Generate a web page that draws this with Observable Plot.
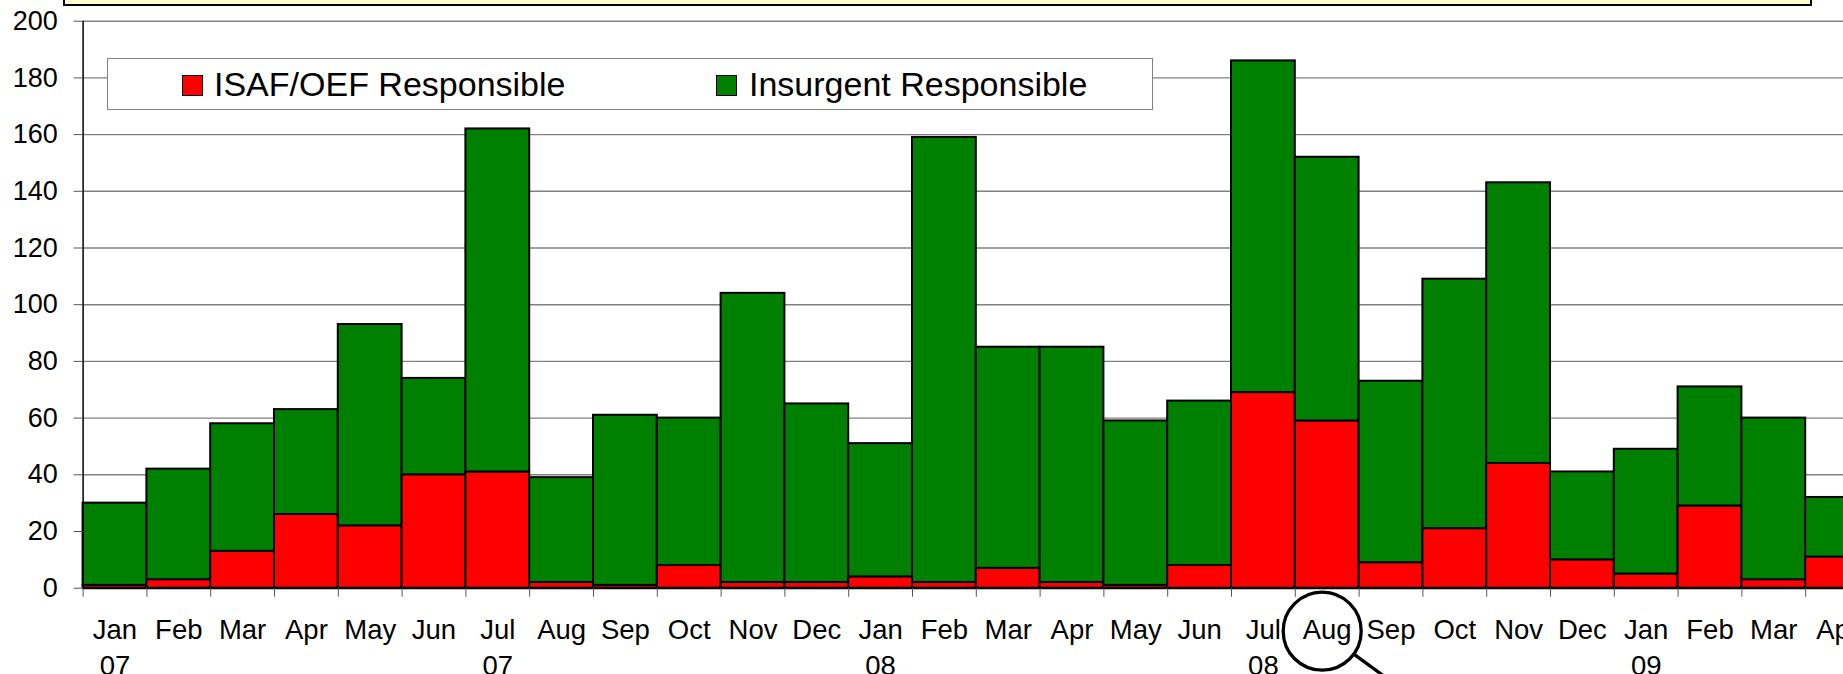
<!DOCTYPE html>
<html>
<head>
<meta charset="utf-8">
<script src="https://cdn.jsdelivr.net/npm/d3@7"></script>
<script src="https://cdn.jsdelivr.net/npm/@observablehq/plot@0.6"></script>
<style>
  html, body { margin: 0; padding: 0; background: #fff; overflow: hidden; }
  #wrap { position: relative; width: 1843px; height: 674px; overflow: hidden; font-family: "Liberation Sans", Arial, sans-serif; }
  #wrap svg { overflow: hidden; display: block; }
  .titlebox { position: absolute; left: 63px; top: -20px; width: 1749px; height: 26px; box-sizing: border-box;
    background: #ffffcc; border: 2px solid #000; }
  .legend { position: absolute; left: 107px; top: 58px; width: 1046px; height: 52px; box-sizing: border-box;
    background: #fff; border: 1.5px solid #808080; }
  .sw { position: absolute; width: 21px; height: 21px; box-sizing: border-box; border: 1.5px solid #000; }
  .lt { position: absolute; font-size: 34px; line-height: 34px; color: #000; white-space: nowrap; }
</style>
</head>
<body>
<div id="wrap"></div>
<script>
// ---- data ----
const monthLabels = ["Jan\n07","Feb","Mar","Apr","May","Jun","Jul\n07","Aug","Sep","Oct","Nov","Dec",
                     "Jan\n08","Feb","Mar","Apr","May","Jun","Jul\n08","Aug","Sep","Oct","Nov","Dec",
                     "Jan\n09","Feb","Mar","Apr"];
const isafValues      = [1,3,13,26,22,40,41,2,1,8,2,2,4,2,7,2,1,8,69,59,9,21,44,10,5,29,3,11];
const insurgentValues = [29,39,45,37,71,34,121,37,60,52,102,63,47,157,78,83,58,58,117,93,64,88,99,31,44,42,57,21];
const seriesNames = ["ISAF/OEF Responsible", "Insurgent Responsible"];
const seriesColors = ["#ff0000", "#008000"];
const yTicks = [0,20,40,60,80,100,120,140,160,180,200];
const highlighted = [19]; // Aug 08, circled with a magnifier

// ---- build stacked table ----
const rows = [];
monthLabels.forEach((m, i) => {
  rows.push({i, series: seriesNames[0], y1: 0, y2: isafValues[i]});
  rows.push({i, series: seriesNames[1], y1: isafValues[i], y2: isafValues[i] + insurgentValues[i]});
});
const n = monthLabels.length;
const boundaries = d3.range(0, n + 1);
const centers = d3.range(0, n).map(i => i + 0.5);

const lineShape = { draw(context, l) { context.moveTo(0, 0); context.lineTo(0, -l); } };

const chart = Plot.plot({
  width: 1843,
  height: 674,
  marginLeft: 82.6,
  marginRight: 0,
  marginTop: 20.7,
  marginBottom: 86.3,
  style: { fontFamily: "'Liberation Sans', Arial, sans-serif", background: "#fff", color: "#000" },
  x: { type: "linear", domain: [0, n], range: [82.6, 82.6 + 63.8 * n], label: null },
  y: { domain: [0, 200], range: [587.7, 20.7], label: null },
  color: { domain: seriesNames, range: seriesColors },
  marks: [
    Plot.gridY(yTicks, { stroke: "#808080", strokeOpacity: 1, strokeWidth: 1.4 }),
    Plot.rect(rows, { x1: d => d.i, x2: d => d.i + 1, y1: "y1", y2: "y2", fill: "series",
                      stroke: "#000", strokeWidth: 2 }),
    Plot.ruleX([0], { y1: 0, y2: 200, stroke: "#000", strokeWidth: 1.5 }),
    Plot.ruleY([0], { stroke: "#000", strokeWidth: 2.2 }),
    Plot.axisY({ ticks: yTicks, tickSize: 9, tickFormat: () => "", stroke: "#555" }),
    Plot.axisY({ ticks: yTicks, tickSize: 0, tickPadding: 25.3, fontSize: 27 }),
    Plot.axisX({ ticks: boundaries, tickSize: 9, tickFormat: () => "", stroke: "#555", label: null }),
    Plot.axisX({ ticks: centers, tickSize: 0, tickPadding: 25.5, fontSize: 27.5, lineHeight: 1.3,
                 tickFormat: d => monthLabels[Math.floor(d)], label: null }),
    Plot.dot(highlighted, { x: d => d + 0.5, y: () => 0, dx: -5, dy: 43, r: 39,
                            stroke: "#000", strokeWidth: 3.3, fill: "none" }),
    Plot.vector(highlighted, { x: d => d + 0.5, y: () => 0, dx: -5 + 31.6, dy: 43 + 23,
                               length: 50, rotate: 126, anchor: "start", shape: lineShape,
                               stroke: "#000", strokeWidth: 3.3 })
  ]
});

const wrap = document.getElementById("wrap");
wrap.appendChild(chart);

// title box (clipped at top) and legend overlay
const tb = document.createElement("div"); tb.className = "titlebox"; wrap.appendChild(tb);
const lg = document.createElement("div"); lg.className = "legend"; wrap.appendChild(lg);
const legendItems = [
  { name: seriesNames[0], color: seriesColors[0], sx: 74, tx: 106 },
  { name: seriesNames[1], color: seriesColors[1], sx: 608, tx: 641 }
];
legendItems.forEach(it => {
  const s = document.createElement("div"); s.className = "sw";
  s.style.left = it.sx + "px"; s.style.top = "16px"; s.style.background = it.color;
  lg.appendChild(s);
  const t = document.createElement("div"); t.className = "lt";
  t.style.left = it.tx + "px"; t.style.top = "8px"; t.textContent = it.name;
  lg.appendChild(t);
});
</script>
</body>
</html>
